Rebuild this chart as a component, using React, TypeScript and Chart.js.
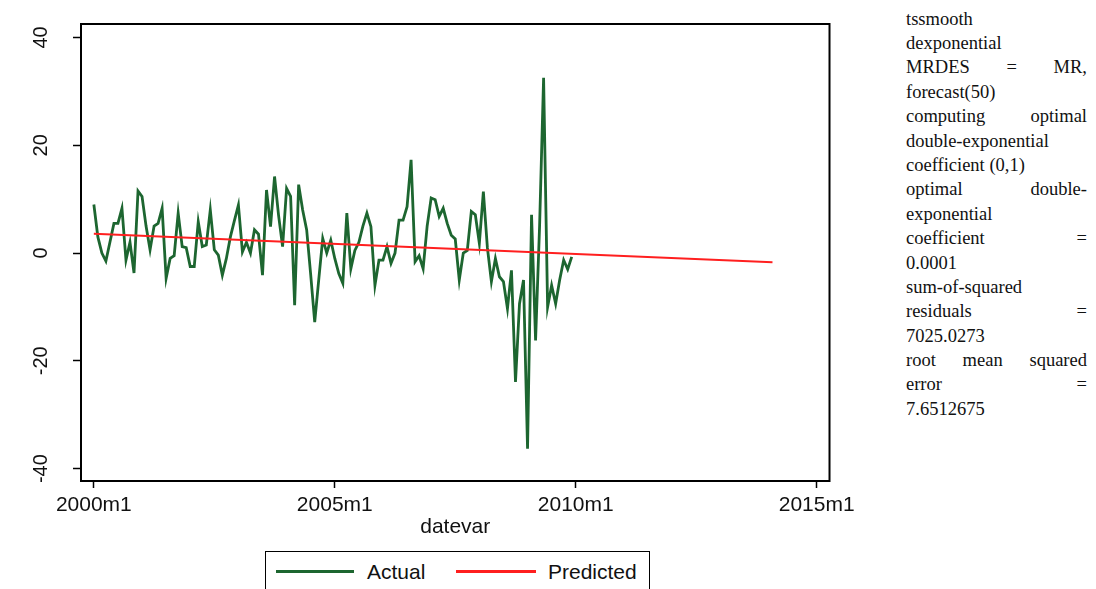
import React, { useEffect, useRef } from "react";
import { Chart, registerables } from "chart.js";

Chart.register(...registerables);

// Monthly actual values, 2000m1 .. 2009m12 (month index 0..119)
const actualValues: number[] = [
  9, 3, 0, -1.5, 2, 5.5, 5.5, 8.3, -1.3, 2,
  -3.7, 11.5, 10.5, 5, 0.6, 5, 5.5, 8.3, -4.7, -1,
  -0.5, 7.4, 1.2, 1, -2.5, -2.5, 5.8, 1.2, 1.5, 8,
  0.6, -0.4, -4.1, -1, 3, 6, 8.9, 0.2, 2, 0,
  4.3, 3.5, -4.1, 11.7, 4.9, 14.2, 7, 1.2, 12, 10.5,
  -9.7, 12.7, 8, 4.3, -4, -12.8, -5, 2.7, 0, 2.4,
  -1, -3.8, -5.6, 7.4, -2.9, 0.5, 2, 5, 7.4, 4.9,
  -6, -1.3, -1.3, 1.2, -1.9, 0, 6.1, 6.1, 8.6, 17.3,
  -1.6, -0.5, -2.9, 5, 10.2, 9.9, 6.8, 8.3, 5.5, 3.3,
  2.6, -5, 0, 0.5, 7.7, 7.1, 1.8, 11.4, 1, -5.3,
  -1, -4.4, -5.3, -10.3, -3.2, -23.9, -9.4, -5, -36.3, 7.1,
  -16.2, 5, 32.5, -10, -6, -9.4, -5, -1.3, -3, -0.7,
];

// Predicted (double-exponential forecast) read at its two ends
const predictedMonths: number[] = [0, 169];
const predictedValues: number[] = [3.6, -1.7];

const xTickValues: number[] = [0, 60, 120, 180];
const xTickLabels: string[] = ["2000m1", "2005m1", "2010m1", "2015m1"];
const yTickValues: number[] = [-40, -20, 0, 20, 40];
const yTickLabels: string[] = ["-40", "-20", "0", "20", "40"];

const seriesNames: string[] = ["Actual", "Predicted"];
const xTitle = "datevar";

const noteLines: { text: string; justify: boolean }[] = [
  { text: "tssmooth", justify: false },
  { text: "dexponential", justify: false },
  { text: "MRDES = MR,", justify: true },
  { text: "forecast(50)", justify: false },
  { text: "computing optimal", justify: true },
  { text: "double-exponential", justify: false },
  { text: "coefficient (0,1)", justify: false },
  { text: "optimal double-", justify: true },
  { text: "exponential", justify: false },
  { text: "coefficient =", justify: true },
  { text: "0.0001", justify: false },
  { text: "sum-of-squared", justify: false },
  { text: "residuals =", justify: true },
  { text: "7025.0273", justify: false },
  { text: "root mean squared", justify: true },
  { text: "error =", justify: true },
  { text: "7.6512675", justify: false },
];

const GREEN = "#1d6630";
const RED = "#ff1f1f";
const SANS = '"Liberation Sans", Arial, Helvetica, sans-serif';
const SERIF = '"Liberation Serif", "Times New Roman", serif';

const framePlugin = {
  id: "frameAndYLabels",
  afterDraw(chart: any) {
    const { ctx, chartArea: a, scales } = chart;
    const y = scales.y;
    ctx.save();
    ctx.strokeStyle = "#000";
    ctx.lineWidth = 2;
    ctx.strokeRect(a.left, a.top, a.right - a.left, a.bottom - a.top);
    ctx.font = `20px ${SANS}`;
    ctx.fillStyle = "#111";
    ctx.textAlign = "center";
    ctx.textBaseline = "middle";
    yTickValues.forEach((v, i) => {
      const py = y.getPixelForValue(v);
      ctx.save();
      ctx.translate(41, py);
      ctx.rotate(-Math.PI / 2);
      ctx.fillText(yTickLabels[i], 0, 0);
      ctx.restore();
    });
    ctx.restore();
  },
};

export default function App() {
  const canvasRef = useRef<HTMLCanvasElement | null>(null);

  useEffect(() => {
    document.body.style.margin = "0";
    document.body.style.overflow = "hidden";
    const canvas = canvasRef.current;
    if (!canvas) return;
    const chart = new Chart(canvas, {
      type: "line",
      data: {
        datasets: [
          {
            label: seriesNames[0],
            data: actualValues.map((v, i) => ({ x: i, y: v })),
            borderColor: GREEN,
            backgroundColor: GREEN,
            borderWidth: 2.8,
            pointRadius: 0,
            tension: 0,
            order: 1,
          },
          {
            label: seriesNames[1],
            data: predictedMonths.map((m, i) => ({ x: m, y: predictedValues[i] })),
            borderColor: RED,
            backgroundColor: RED,
            borderWidth: 2,
            pointRadius: 0,
            tension: 0,
            order: 0,
          },
        ],
      },
      options: {
        animation: false,
        responsive: false,
        maintainAspectRatio: false,
        layout: { padding: { top: 24, right: 23, left: 0, bottom: 0 } },
        plugins: {
          legend: { display: false },
          tooltip: { enabled: false },
        },
        scales: {
          x: {
            type: "linear",
            min: -3.2,
            max: 183.2,
            afterBuildTicks: (scale: any) => {
              scale.ticks = xTickValues.map((v) => ({ value: v }));
            },
            afterFit: (scale: any) => {
              scale.height = 64;
            },
            ticks: {
              autoSkip: false,
              maxRotation: 0,
              minRotation: 0,
              padding: 5,
              color: "#111",
              font: { family: SANS, size: 21 },
              callback: (value: any) => {
                const idx = xTickValues.indexOf(Number(value));
                return idx >= 0 ? xTickLabels[idx] : "";
              },
            },
            grid: {
              display: true,
              drawOnChartArea: false,
              drawTicks: true,
              tickLength: 7,
              tickColor: "#000",
              tickWidth: 1.5,
            },
            border: { display: false },
            title: {
              display: true,
              text: xTitle,
              color: "#111",
              font: { family: SANS, size: 21 },
              padding: { top: 0, bottom: 5 },
            },
          },
          y: {
            type: "linear",
            min: -42.3,
            max: 42.5,
            afterBuildTicks: (scale: any) => {
              scale.ticks = yTickValues.map((v) => ({ value: v }));
            },
            afterFit: (scale: any) => {
              scale.width = 81;
            },
            ticks: { display: false },
            grid: {
              display: true,
              drawOnChartArea: false,
              drawTicks: true,
              tickLength: 8,
              tickColor: "#000",
              tickWidth: 1.5,
            },
            border: { display: false },
          },
        },
      },
      plugins: [framePlugin],
    } as any);
    return () => chart.destroy();
  }, []);

  return (
    <div
      style={{
        position: "absolute",
        left: 0,
        top: 0,
        width: 1096,
        height: 589,
        overflow: "hidden",
        background: "#fff",
      }}
    >
      <canvas
        ref={canvasRef}
        width={860}
        height={545}
        style={{ position: "absolute", left: 0, top: 0, width: 860, height: 545 }}
      />
      <div
        style={{
          position: "absolute",
          left: 265,
          top: 551,
          width: 385,
          height: 60,
          border: "1.5px solid #000",
          boxSizing: "border-box",
          fontFamily: SANS,
          fontSize: 21,
          color: "#111",
        }}
      >
        <div style={{ position: "absolute", left: 10, top: 18, width: 78, height: 3, background: GREEN }} />
        <div style={{ position: "absolute", left: 101, top: 7, lineHeight: "25px" }}>{seriesNames[0]}</div>
        <div style={{ position: "absolute", left: 190, top: 18, width: 80, height: 3, background: RED }} />
        <div style={{ position: "absolute", left: 282, top: 7, lineHeight: "25px" }}>{seriesNames[1]}</div>
      </div>
      <div
        style={{
          position: "absolute",
          left: 906,
          top: 6.6,
          width: 181,
          fontFamily: SERIF,
          fontSize: 18.5,
          color: "#111",
        }}
      >
        {noteLines.map((l, i) => (
          <div
            key={i}
            style={{
              height: 24.4,
              lineHeight: "24.4px",
              whiteSpace: "nowrap",
              textAlign: l.justify ? "justify" : "left",
              textAlignLast: l.justify ? "justify" : "left",
            }}
          >
            {l.text}
          </div>
        ))}
      </div>
    </div>
  );
}
